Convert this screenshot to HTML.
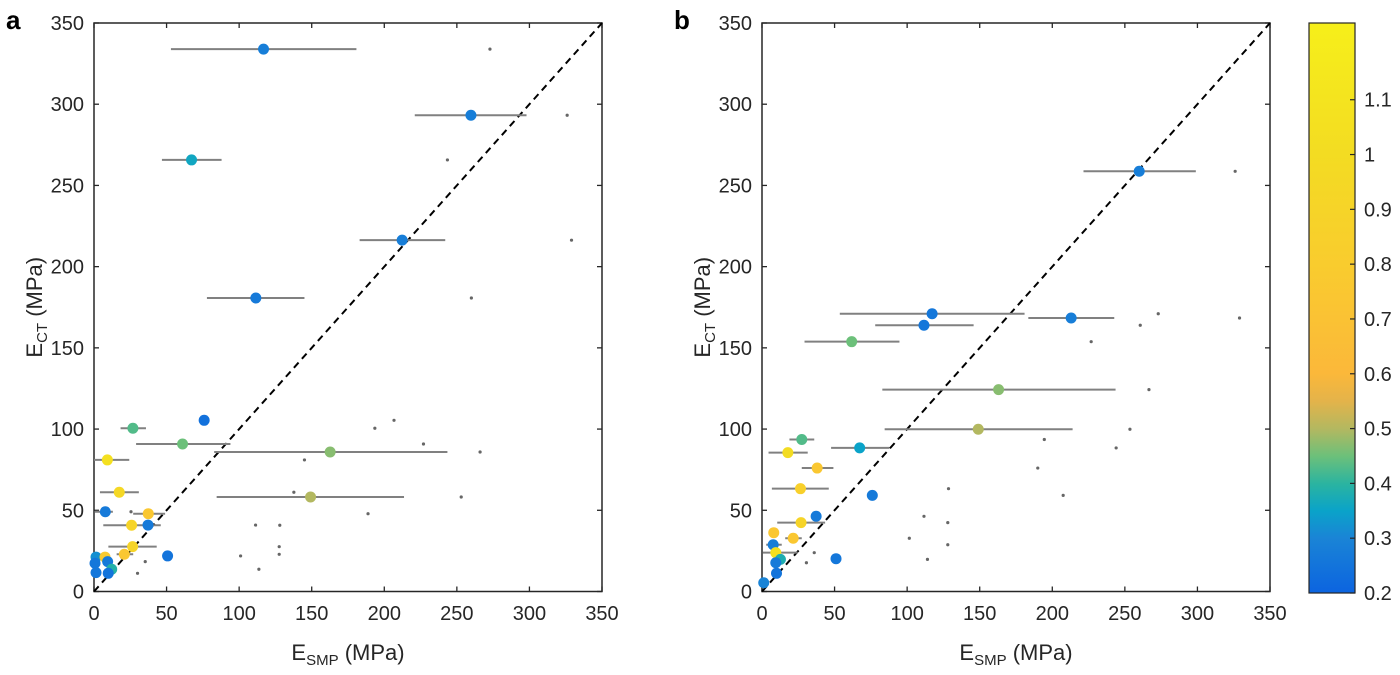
<!DOCTYPE html>
<html><head><meta charset="utf-8"><style>
body{margin:0;background:#fff;}
svg{display:block;font-family:"Liberation Sans",Arial,sans-serif;}
</style></head><body>
<svg id="fig" width="1400" height="675" viewBox="0 0 1400 675">
<defs>
<linearGradient id="cmap" x1="0" y1="1" x2="0" y2="0">
<stop offset="0" stop-color="#0c64e0"/>
<stop offset="0.096" stop-color="#1a84d6"/>
<stop offset="0.144" stop-color="#0aa3c9"/>
<stop offset="0.192" stop-color="#2bb4a0"/>
<stop offset="0.24" stop-color="#6cc07a"/>
<stop offset="0.288" stop-color="#b3b860"/>
<stop offset="0.337" stop-color="#e4b34a"/>
<stop offset="0.385" stop-color="#fbb83a"/>
<stop offset="0.577" stop-color="#f9cc2e"/>
<stop offset="0.77" stop-color="#f3dc22"/>
<stop offset="1" stop-color="#f6ef1a"/>
</linearGradient>
</defs>
</svg>
<script>
// Panel a data
const ctA   = [333.9,293.2,265.7,216.3,180.7,105.4,100.5,90.8,85.9,81.0,61.1,58.2,49.1,47.9,40.9,40.8,27.6,22.9,21.9,21.2,21.2,17.4,18.4,13.7,11.6,11.2];
const smpA  = [116.8,259.7,67.2,212.3,111.5,75.9,26.8,61.0,162.7,9.2,17.4,149.2,7.8,37.4,37.2,25.9,26.6,20.9,50.7,1.4,7.6,0.7,9.4,12.2,1.4,9.8];
const loA   = [53,221,46.8,183,77.8,74,18.3,29,82.8,0,4.1,84.5,0.7,27,37.2,6.4,9.9,15.6,50.7,1.4,7.6,0.7,9.4,12.2,1.4,9.8];
const hiA   = [180.8,298,87.9,242,145,78,35.8,94,243.5,24.3,30.9,213.6,13,49,37.2,46,43.2,27,50.7,1.4,7.6,0.7,9.4,12.2,1.4,9.8];
const colA  = [0.28,0.28,0.36,0.28,0.27,0.24,0.43,0.45,0.47,1.05,0.95,0.5,0.27,0.75,0.27,0.9,0.9,0.75,0.25,0.32,0.78,0.26,0.27,0.39,0.26,0.25];
const altA  = [272.8,326,243.5,329,260,206.7,193.5,227,266,145,137.7,253,25.5,188.8,111.3,128,127.6,127.6,101,null,19,null,35.3,113.6,null,30];
// Panel b data
const ctB   = [258.7,171,168.4,163.9,153.8,124.3,99.9,93.6,88.4,85.5,76,63.3,59.2,46.3,42.4,36.2,32.8,28.8,23.9,19.8,17.7,20.2,11.2,5.4];
const smpB  = [259.9,117.2,213,111.6,61.8,163,149,27.4,67.3,17.8,38,26.5,76,37.3,26.9,8.1,21.5,7.7,9.5,12.7,9.5,51,10,1.2];
const loB   = [221.5,53.6,183.5,78,29.3,82.9,84.5,18.9,47.6,4.5,27.4,6.8,74,37.3,10.5,8.1,16,2.9,0.5,12.7,9.5,51,10,1.2];
const hiB   = [298.9,180.9,242.7,145.8,94.7,243.6,214,36,87.8,31.5,49.2,46,78,37.3,43.5,8.1,27.4,13.6,24.6,12.7,9.5,51,10,1.2];
const colB  = [0.28,0.26,0.28,0.26,0.45,0.47,0.5,0.43,0.35,1.0,0.75,0.85,0.27,0.27,0.9,0.75,0.75,0.28,1.05,0.38,0.27,0.26,0.25,0.3];
const altB  = [326,273,329,260.6,226.8,266.6,253.5,194.5,244,null,190,128.5,207.5,111.6,128,null,101.5,128,36,114,30.6,null,null,null];
const ticks = [0,50,100,150,200,250,300,350];
const cbTicks = [0.2,0.3,0.4,0.5,0.6,0.7,0.8,0.9,1,1.1];
const cMin=0.2, cMax=1.24;

const NS="http://www.w3.org/2000/svg";
const svg=document.getElementById('fig');
function mk(tag,attrs,parent){const e=document.createElementNS(NS,tag);for(const k in attrs)e.setAttribute(k,attrs[k]);(parent||svg).appendChild(e);return e;}

const stops=[[0.2,[12,100,224]],[0.3,[26,132,214]],[0.35,[10,163,201]],[0.4,[43,180,160]],[0.45,[108,192,122]],[0.5,[179,184,96]],[0.55,[228,179,74]],[0.6,[251,184,58]],[0.8,[249,204,46]],[1.0,[243,220,34]],[1.24,[246,239,26]]];
function cmap(v){v=Math.max(cMin,Math.min(cMax,v));for(let i=0;i<stops.length-1;i++){const[a,ca]=stops[i],[b,cb]=stops[i+1];if(v<=b){const t=(v-a)/(b-a);return 'rgb('+ca.map((c,j)=>Math.round(c+(cb[j]-c)*t)).join(',')+')';}}return 'rgb(246,239,26)';}

function panel(x0,letter,ct,smp,lo,hi,col,alt){
  const W=508,top=23,bot=591.5,xmax=350,ymax=350;
  const sx=v=>x0+v/xmax*W, sy=v=>bot-v/ymax*(bot-top);
  const g=mk('g',{});
  
  
  mk('rect',{x:x0,y:top,width:W,height:bot-top,fill:'#fff',stroke:'#262626','stroke-width':1.5},g);
  ticks.forEach(t=>{
    mk('line',{x1:sx(t),x2:sx(t),y1:bot,y2:bot-5,stroke:'#262626','stroke-width':1.3},g);
    mk('line',{x1:sx(t),x2:sx(t),y1:top,y2:top+5,stroke:'#262626','stroke-width':1.3},g);
    mk('line',{x1:x0,x2:x0+5,y1:sy(t),y2:sy(t),stroke:'#262626','stroke-width':1.3},g);
    mk('line',{x1:x0+W,x2:x0+W-5,y1:sy(t),y2:sy(t),stroke:'#262626','stroke-width':1.3},g);
    const xl=mk('text',{x:sx(t),y:620,'font-size':20,'text-anchor':'middle',fill:'#262626'},g);xl.textContent=t;
    
    
    const yl=mk('text',{x:x0-10,y:sy(t)+7,'font-size':20,'text-anchor':'end',fill:'#262626'},g);yl.textContent=t;
    
    
  });
  const d=mk('line',{x1:sx(0),y1:sy(0),x2:sx(350),y2:sy(350),stroke:'#000','stroke-width':2,'stroke-dasharray':'7,5'},g);
  
  
  alt.forEach((a,i)=>{if(a===null)return;const c=mk('circle',{cx:sx(a),cy:sy(ct[i]),r:1.6,fill:'#666'},g);
    
    });
  ct.forEach((v,i)=>{if(hi[i]-lo[i]>0.5){const l=mk('line',{x1:sx(lo[i]),x2:sx(hi[i]),y1:sy(v),y2:sy(v),stroke:'#808080','stroke-width':2},g);
    
    }});
  ct.forEach((v,i)=>{const c=mk('circle',{cx:sx(smp[i]),cy:sy(v),r:5.5,fill:cmap(col[i])},g);
    
    });
  const lt=mk('text',{x:x0-88,y:29,'font-size':26,'font-weight':'bold',fill:'#000'},g);lt.textContent=letter;
  
  
  const xt=mk('text',{x:x0+W/2,y:660,'font-size':22,'text-anchor':'middle',fill:'#262626'},g);
  xt.innerHTML='E<tspan font-size="15" dy="5">SMP</tspan><tspan dy="-5"> (MPa)</tspan>';
  
  
  const yt=mk('text',{x:0,y:0,'font-size':22,'text-anchor':'middle',fill:'#262626',transform:'translate('+(x0-52)+','+((top+bot)/2)+') rotate(-90)'},g);
  yt.innerHTML='E<tspan font-size="15" dy="5">CT</tspan><tspan dy="-5"> (MPa)</tspan>';
  
  
}
panel(94,'a',ctA,smpA,loA,hiA,colA,altA);
panel(762,'b',ctB,smpB,loB,hiB,colB,altB);

// colorbar
const cbx=1309,cbw=46,cbt=23,cbb=593;
const cy=v=>cbb-(v-cMin)/(cMax-cMin)*(cbb-cbt);
const cb=mk('rect',{x:cbx,y:cbt,width:cbw,height:cbb-cbt,fill:'url(#cmap)',stroke:'#262626','stroke-width':1.2});


cbTicks.forEach(t=>{
  mk('line',{x1:cbx+cbw-5,x2:cbx+cbw,y1:cy(t),y2:cy(t),stroke:'#262626','stroke-width':1.2});
  const l=mk('text',{x:cbx+cbw+9,y:cy(t)+7,'font-size':20,fill:'#262626'});l.textContent=t;
  
  
});
</script>
</body></html>
